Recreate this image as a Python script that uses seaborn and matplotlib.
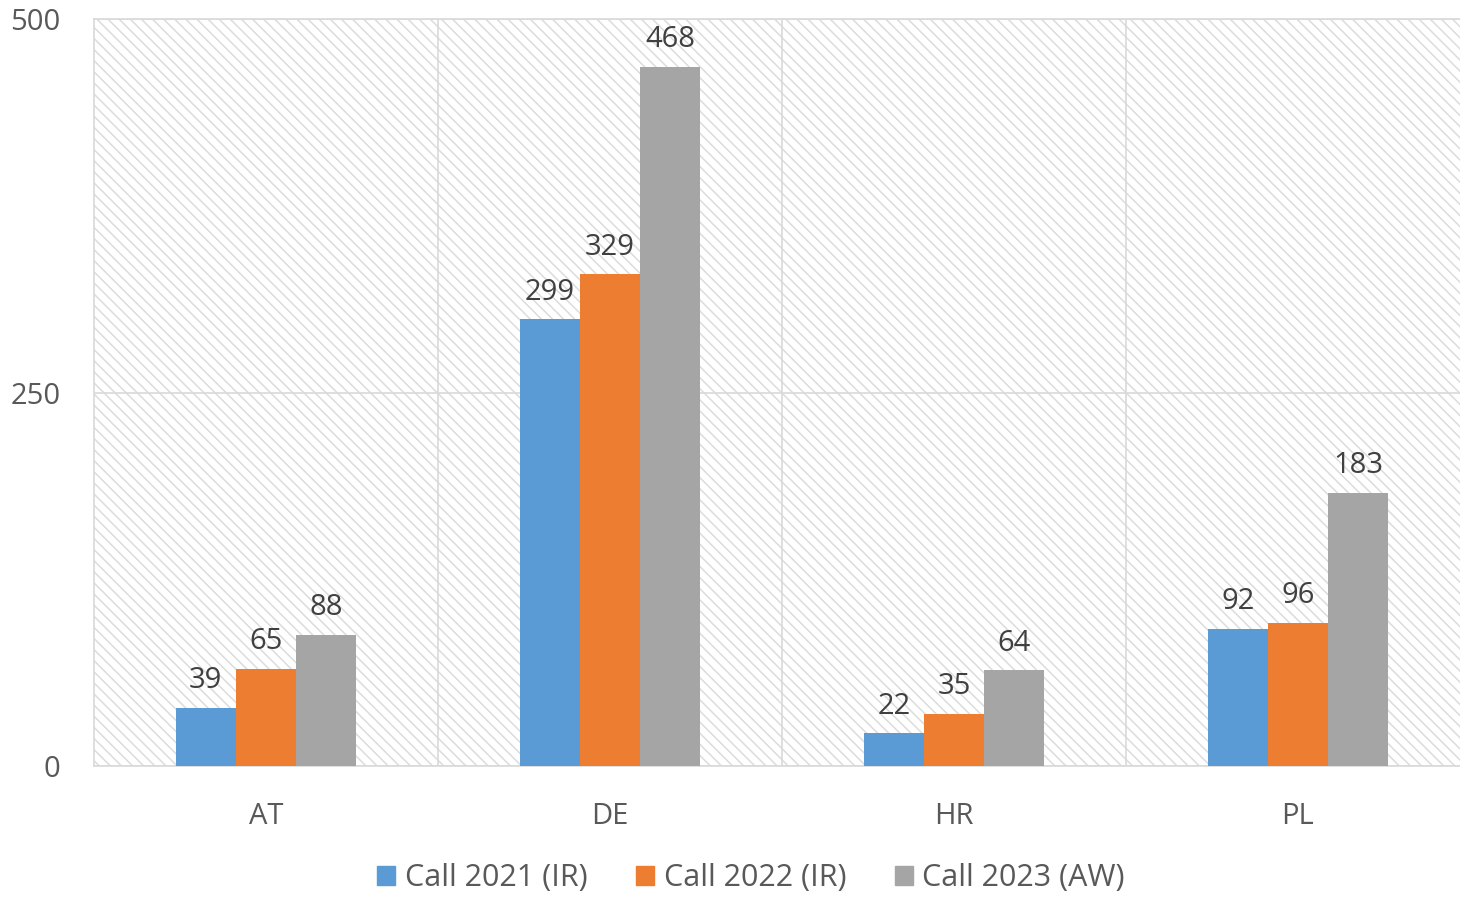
import numpy as np
import pandas as pd
import matplotlib
matplotlib.use("Agg")
import matplotlib.pyplot as plt
import matplotlib.patches as mpatches
from matplotlib.ticker import FixedLocator
import seaborn as sns

countries = ["AT", "DE", "HR", "PL"]
series = ["Call 2021 (IR)", "Call 2022 (IR)", "Call 2023 (AW)"]
call_2021 = [39, 299, 22, 92]
call_2022 = [65, 329, 35, 96]
call_2023 = [88, 468, 64, 183]
colors = ["#5b9bd5", "#ed7d31", "#a5a5a5"]

df = pd.DataFrame({
    "country": countries * 3,
    "call": [series[0]] * 4 + [series[1]] * 4 + [series[2]] * 4,
    "value": call_2021 + call_2022 + call_2023,
})

sns.set_style("white")
plt.rcParams["font.family"] = ["Open Sans", "DejaVu Sans"]
plt.rcParams["hatch.color"] = "#dcdcdc"
plt.rcParams["hatch.linewidth"] = 1.1

fig = plt.figure(figsize=(14.6, 8.97), dpi=100)
# chart area runs past the right edge of the picture (cropped like the original)
ax = fig.add_axes([94 / 1460, 1 - 766 / 897, 1376 / 1460, (766 - 19) / 897])

# hatched plot background
bg = mpatches.Rectangle((0, 0), 1, 1, transform=ax.transAxes, facecolor="white",
                        edgecolor="#dcdcdc", hatch="\\\\\\", linewidth=0, zorder=0)
ax.add_patch(bg)

sns.barplot(data=df, x="country", y="value", hue="call", palette=colors,
            width=0.525, gap=0, saturation=1, linewidth=0, ax=ax, zorder=3,
            legend=False)

for cont in ax.containers:
    ax.bar_label(cont, padding=9, fontsize=21, color="#404040")

ax.set_ylim(0, 500)
ax.set_xlim(-0.5, 3.5)
ax.set_yticks([0, 250, 500])
ax.xaxis.set_minor_locator(FixedLocator([0.5, 1.5, 2.5]))
ax.grid(axis="y", which="major", color="#d9d9d9", linewidth=1.2, zorder=1)
ax.grid(axis="x", which="minor", color="#d9d9d9", linewidth=1.2, zorder=1)
ax.set_axisbelow(True)
ax.set_xlabel("")
ax.set_ylabel("")
ax.tick_params(axis="both", which="both", length=0, labelsize=21, labelcolor="#595959")
ax.tick_params(axis="x", pad=26)
ax.tick_params(axis="y", pad=24)
for s in ax.spines.values():
    s.set_color("#d9d9d9")
    s.set_linewidth(1.2)

handles = [mpatches.Patch(color=c, label=l) for c, l in zip(colors, series)]
fig.legend(handles=handles, loc="center", bbox_to_anchor=(751 / 1460, 1 - 878 / 897),
           ncol=3, frameon=False, fontsize=22, labelcolor="#595959",
           handlelength=0.6, handleheight=0.6, handletextpad=0.3, columnspacing=1.6)

fig.savefig("out.png", dpi=100)
